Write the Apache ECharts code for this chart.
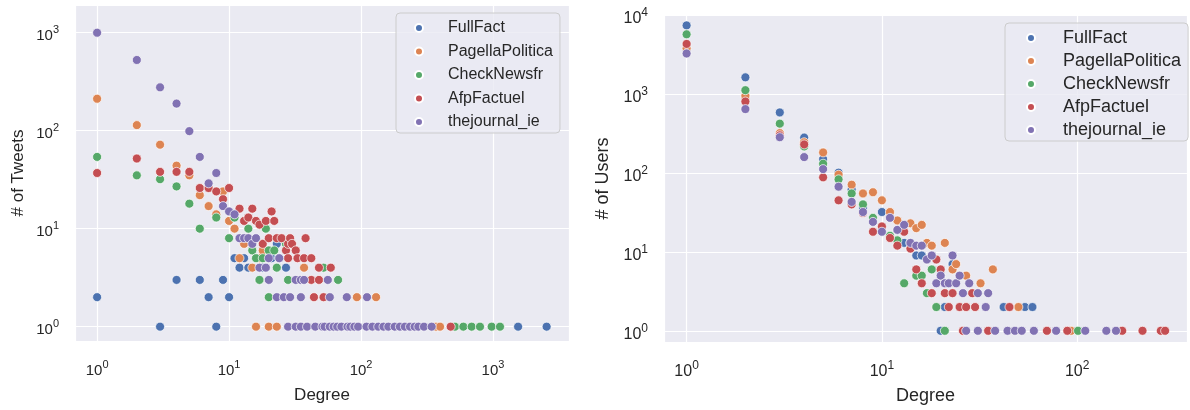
<!DOCTYPE html>
<html>
<head>
<meta charset="utf-8">
<script src="https://cdn.jsdelivr.net/npm/echarts@6/dist/echarts.min.js"></script>
<style>html,body{margin:0;padding:0;background:#fff}#c{width:1190px;height:410px}</style>
</head>
<body>
<div id="c"></div>
<script>
const seriesNames = ['FullFact', 'PagellaPolitica', 'CheckNewsfr', 'AfpFactuel', 'thejournal_ie'];
const seriesColors = ['#4C72B0', '#DD8452', '#55A868', '#C44E52', '#8172B3'];

// Left panel: Degree vs # of Tweets
const tweetsFullFact = [[1,2],[3,1],[4,3],[6,3],[7,2],[8,1],[9,3],[10,2],[11,5],[12,4],[13,5],[14,4],[18,4],[21,5],[23,7],[24,5],[27,4],[1550,1],[2550,1]];
const tweetsPagella = [[1,212],[2,114],[3,72],[4,44],[5,35],[6,22],[7,17],[8,14],[9,24],[10,12],[11,10],[12,5],[13,7],[15,4],[16,1],[17,5],[18,6],[20,1],[23,1],[37,4],[93,2],[130,2],[370,1],[397,1]];
const tweetsCheck = [[1,54],[2,35],[3,32],[4,27],[5,18],[6,10],[8,13],[10,8],[11,13],[14,10],[15,6],[16,5],[17,3],[18,5],[19,10],[20,6],[20,2],[22,6],[23,4],[27,7],[28,3],[52,4],[67,3],[515,1],[596,1],[689,1],[797,1],[977,1],[1130,1]];
const tweetsAfp = [[1,37],[2,52],[3,38],[4,38],[5,38],[6,26],[7,26],[8,24],[9,20],[10,26],[12,16],[13,12],[14,13],[15,16],[16,12],[17,11],[18,7],[19,12],[20,8],[21,15],[22,12],[23,8],[25,8],[27,6],[28,7],[28,5],[29,8],[30,7],[32,6],[33,5],[37,5],[38,8],[42,5],[42,3],[44,2],[48,4],[48,3],[52,2],[59,4],[478,1]];
const tweetsJournal = [[1,1000],[2,527],[3,277],[4,189],[5,99],[6,54],[7,29],[8,37],[9,17],[10,15],[11,14],[12,8],[13,8],[14,8],[15,7],[16,8],[17,4],[19,4],[20,5],[20,3],[24,5],[32,3],[35,3],[37,3],[56,3],[23,2],[26,2],[29,2],[35,2],[58,2],[78,2],[111,2],[28,1],[32,1],[35,1],[39,1],[45,1],[51,1],[53,1],[58,1],[62,1],[66,1],[71,1],[79,1],[83,1],[89,1],[95,1],[110,1],[122,1],[135,1],[148,1],[161,1],[180,1],[197,1],[215,1],[235,1],[255,1],[272,1],[300,1],[343,1]];

// Right panel: Degree vs # of Users
const usersFullFact = [[1,7420],[2,1630],[3,585],[4,281],[5,150],[6,101],[7,62],[8,36],[10,32],[11,28],[13,13],[14,13],[15,9],[16,9],[20,5],[22,4],[23,7],[20,1],[21,2],[42,2],[54,2],[59,2]];
const usersPagella = [[1,3800],[2,950],[3,320],[4,245],[5,182],[6,95],[7,71],[8,55],[9,57],[10,45],[11,32],[12,25],[14,23],[15,20],[16,22],[17,13],[18,12],[21,13],[23,6],[24,7],[27,5],[32,4],[37,6],[50,2],[93,1]];
const usersCheck = [[1,5720],[2,1120],[3,422],[4,217],[5,131],[6,83],[7,55],[8,40],[9,27],[11,16],[12,14],[13,4],[15,5],[16,5],[17,3],[18,6],[19,2],[21,1],[101,1]];
const usersAfp = [[1,4320],[2,805],[3,300],[4,230],[5,88],[6,45],[7,40],[8,31],[9,18],[10,21],[11,15],[12,12],[13,18],[14,11],[15,6],[16,4],[18,3],[19,8],[20,6],[21,3],[22,2],[23,3],[25,2],[27,2],[29,3],[30,2],[45,2],[26,1],[35,1],[70,1],[89,1],[170,1],[216,1],[268,1],[282,1]];
const usersJournal = [[1,3270],[2,645],[3,284],[4,159],[5,112],[6,67],[7,43],[8,32],[9,24],[10,18],[11,27],[12,19],[13,22],[14,13],[15,12],[16,12],[17,8],[18,9],[19,4],[20,5],[21,4],[22,4],[23,9],[24,4],[25,5],[26,3],[28,4],[31,3],[34,2],[35,3],[27,1],[31,1],[38,1],[44,1],[48,1],[52,1],[60,1],[78,1],[110,1],[141,1],[158,1]];

const leftData = [tweetsFullFact, tweetsPagella, tweetsCheck, tweetsAfp, tweetsJournal];
const rightData = [usersFullFact, usersPagella, usersCheck, usersAfp, usersJournal];

const FONT = '"Liberation Sans", Arial, Helvetica, sans-serif';
const TXT = '#262626';

function powLabel(v) {
  const e = Math.log10(v);
  const r = Math.round(e);
  if (Math.abs(e - r) > 1e-6) return '';
  return '{b|10}{e|' + r + '}';
}
function richFor(size, esize, lh) {
  return {
    b: { fontSize: size, fontFamily: FONT, color: TXT, lineHeight: lh, verticalAlign: 'bottom' },
    e: { fontSize: esize, fontFamily: FONT, color: TXT, verticalAlign: 'top' }
  };
}
function logAxis(opts) {
  return Object.assign({
    type: 'log',
    logBase: 10,
    axisLine: { show: false },
    axisTick: { show: false },
    minorTick: { show: false },
    splitLine: { show: true, lineStyle: { color: '#ffffff', width: 1.2 } },
    nameLocation: 'middle',
    nameTextStyle: { fontFamily: FONT, color: TXT }
  }, opts);
}

const chart = echarts.init(document.getElementById('c'), null, { renderer: 'canvas' });

const series = [];
[leftData, rightData].forEach((set, gi) => {
  set.forEach((d, i) => {
    series.push({
      type: 'scatter',
      name: seriesNames[i],
      xAxisIndex: gi, yAxisIndex: gi,
      data: d,
      symbol: 'circle',
      symbolSize: 9,
      itemStyle: { color: seriesColors[i], borderColor: '#ffffff', borderWidth: 0.7, opacity: 1 },
      emphasis: { disabled: true },
      animation: false
    });
  });
});

function legendFor(left, top, itemWidth, fontSize, gap, pad) {
  return {
    orient: 'vertical',
    left: left, top: top,
    data: seriesNames,
    icon: 'circle',
    itemWidth: itemWidth, itemHeight: 8,
    itemGap: gap,
    padding: pad,
    backgroundColor: 'rgba(234,234,242,0.8)',
    borderColor: '#cccccc', borderWidth: 1, borderRadius: 4,
    selectedMode: false,
    textStyle: { fontFamily: FONT, fontSize: fontSize, color: TXT, lineHeight: 18 }
  };
}

chart.setOption({
  animation: false,
  backgroundColor: '#ffffff',
  grid: [
    { left: 75, top: 5, width: 494, height: 336, show: true, backgroundColor: '#EAEAF2', borderWidth: 0 },
    { left: 664, top: 15, width: 525, height: 328, show: true, backgroundColor: '#EAEAF2', borderWidth: 0 }
  ],
  legend: [
    legendFor(396, 13, 48, 16, 5.5, [6, 7, 2, 18]),
    legendFor(1005, 23, 54, 18, 5, [6, 7, 2, 21])
  ],
  xAxis: [
    logAxis({ gridIndex: 0, min: 0.68, max: 3767, name: 'Degree', nameGap: 46,
      nameTextStyle: { fontFamily: FONT, color: TXT, fontSize: 17 },
      axisLabel: { margin: 18, formatter: powLabel, rich: richFor(15, 11, 19) } }),
    logAxis({ gridIndex: 1, min: 0.766, max: 365, name: 'Degree', nameGap: 45,
      nameTextStyle: { fontFamily: FONT, color: TXT, fontSize: 18 },
      axisLabel: { margin: 18, formatter: powLabel, rich: richFor(16, 12, 20) } })
  ],
  yAxis: [
    logAxis({ gridIndex: 0, min: 0.714, max: 1918, name: '# of Tweets', nameGap: 48,
      nameTextStyle: { fontFamily: FONT, color: TXT, fontSize: 17 },
      axisLabel: { margin: 16, padding: [3, 0, 0, 0], formatter: powLabel, rich: richFor(15, 11, 19) } }),
    logAxis({ gridIndex: 1, min: 0.721, max: 10050, name: '# of Users', nameGap: 52,
      nameTextStyle: { fontFamily: FONT, color: TXT, fontSize: 18 },
      axisLabel: { margin: 16, padding: [3, 0, 0, 0], formatter: powLabel, rich: richFor(16, 12, 20) } })
  ],
  series: series
});
</script>
</body>
</html>
